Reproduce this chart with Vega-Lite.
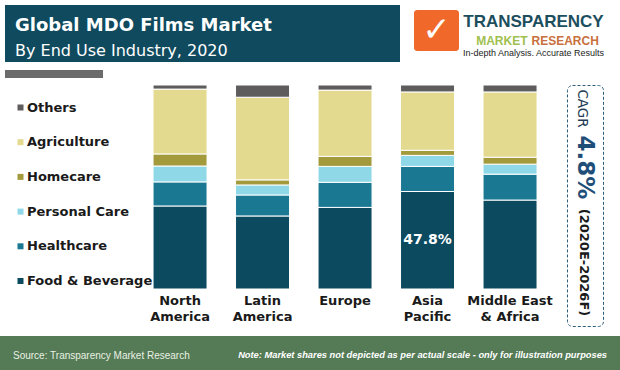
{
  "$schema": "https://vega.github.io/schema/vega-lite/v6.json",
  "padding": {"left": 0, "top": 5, "right": 0, "bottom": 0},
  "background": "white",
  "config": {"view": {"stroke": null}, "font": "DejaVu Sans"},
  "datasets": {
    "one": [{"k": 1}],
    "shares": [
      {"region": "North America", "segment": "Food & Beverage", "rank": 1, "pct": 40.7, "label": ""},
      {"region": "North America", "segment": "Healthcare", "rank": 2, "pct": 11.8, "label": ""},
      {"region": "North America", "segment": "Personal Care", "rank": 3, "pct": 7.8, "label": ""},
      {"region": "North America", "segment": "Homecare", "rank": 4, "pct": 5.9, "label": ""},
      {"region": "North America", "segment": "Agriculture", "rank": 5, "pct": 31.8, "label": ""},
      {"region": "North America", "segment": "Others", "rank": 6, "pct": 2.0, "label": ""},
      {"region": "Latin America", "segment": "Food & Beverage", "rank": 1, "pct": 35.8, "label": ""},
      {"region": "Latin America", "segment": "Healthcare", "rank": 2, "pct": 10.3, "label": ""},
      {"region": "Latin America", "segment": "Personal Care", "rank": 3, "pct": 4.9, "label": ""},
      {"region": "Latin America", "segment": "Homecare", "rank": 4, "pct": 2.5, "label": ""},
      {"region": "Latin America", "segment": "Agriculture", "rank": 5, "pct": 40.5, "label": ""},
      {"region": "Latin America", "segment": "Others", "rank": 6, "pct": 6.0, "label": ""},
      {"region": "Europe", "segment": "Food & Beverage", "rank": 1, "pct": 40.0, "label": ""},
      {"region": "Europe", "segment": "Healthcare", "rank": 2, "pct": 12.3, "label": ""},
      {"region": "Europe", "segment": "Personal Care", "rank": 3, "pct": 7.8, "label": ""},
      {"region": "Europe", "segment": "Homecare", "rank": 4, "pct": 4.9, "label": ""},
      {"region": "Europe", "segment": "Agriculture", "rank": 5, "pct": 32.5, "label": ""},
      {"region": "Europe", "segment": "Others", "rank": 6, "pct": 2.5, "label": ""},
      {"region": "Asia Pacific", "segment": "Food & Beverage", "rank": 1, "pct": 47.8, "label": "47.8%"},
      {"region": "Asia Pacific", "segment": "Healthcare", "rank": 2, "pct": 12.3, "label": ""},
      {"region": "Asia Pacific", "segment": "Personal Care", "rank": 3, "pct": 5.4, "label": ""},
      {"region": "Asia Pacific", "segment": "Homecare", "rank": 4, "pct": 2.5, "label": ""},
      {"region": "Asia Pacific", "segment": "Agriculture", "rank": 5, "pct": 28.6, "label": ""},
      {"region": "Asia Pacific", "segment": "Others", "rank": 6, "pct": 3.4, "label": ""},
      {"region": "Middle East & Africa", "segment": "Food & Beverage", "rank": 1, "pct": 43.6, "label": ""},
      {"region": "Middle East & Africa", "segment": "Healthcare", "rank": 2, "pct": 12.7, "label": ""},
      {"region": "Middle East & Africa", "segment": "Personal Care", "rank": 3, "pct": 4.9, "label": ""},
      {"region": "Middle East & Africa", "segment": "Homecare", "rank": 4, "pct": 3.4, "label": ""},
      {"region": "Middle East & Africa", "segment": "Agriculture", "rank": 5, "pct": 32.0, "label": ""},
      {"region": "Middle East & Africa", "segment": "Others", "rank": 6, "pct": 3.4, "label": ""}
    ]
  },
  "spacing": 6,
  "vconcat": [
    {
      "spacing": 14,
      "hconcat": [
        {
          "spacing": 4,
          "hconcat": [
            {"width": 1, "height": 1, "view": {"fill": "#ffffff", "stroke": null}, "data": {"name": "one"}, "mark": {"type": "point", "opacity": 0, "size": 1}},
            {
              "spacing": 8,
              "vconcat": [
                {
                  "width": 395, "height": 57,
                  "view": {"fill": "#0f4a5e", "stroke": null},
                  "data": {"name": "one"},
                  "mark": {"type": "point", "opacity": 0, "size": 1},
                  "title": {
                    "text": "Global MDO Films Market",
                    "subtitle": "By End Use Industry, 2020",
                    "anchor": "start", "frame": "group", "offset": -54, "dx": 10,
                    "color": "#ffffff", "subtitleColor": "#ffffff",
                    "font": "DejaVu Sans", "fontSize": 18, "fontWeight": "bold",
                    "subtitleFont": "DejaVu Sans", "subtitleFontSize": 16, "subtitleFontWeight": "normal",
                    "subtitlePadding": 8
                  }
                },
                {
                  "width": 98, "height": 8,
                  "view": {"fill": "#6b6b6b", "stroke": null},
                  "data": {"name": "one"},
                  "mark": {"type": "point", "opacity": 0, "size": 1}
                }
              ]
            }
          ]
        },
        {
          "spacing": 2,
          "hconcat": [
            {
              "spacing": 4,
              "vconcat": [
                {"width": 45, "height": 1, "view": {"fill": "#ffffff", "stroke": null}, "data": {"name": "one"}, "mark": {"type": "point", "opacity": 0, "size": 1}},
                {
                  "width": 45, "height": 41,
                  "view": {"fill": "#f0692a", "stroke": null, "cornerRadius": 3},
                  "data": {"name": "one"},
                  "mark": {"type": "text", "text": "✓", "color": "white", "fontSize": 34, "fontWeight": "bold", "align": "center", "baseline": "middle"}
                }
              ]
            },
            {
              "width": 145, "height": 55,
              "view": {"fill": "#ffffff", "stroke": null},
              "data": {"name": "one"},
              "layer": [
                {"mark": {"type": "text", "text": "TRANSPARENCY", "font": "Liberation Sans", "fontWeight": "bold", "fontSize": 17, "color": "#1c4e5e", "align": "center", "baseline": "middle", "dy": -11}},
                {"mark": {"type": "text", "text": "MARKET", "font": "Liberation Sans", "fontWeight": "bold", "fontSize": 12, "color": "#9fbf4f", "align": "right", "baseline": "middle", "dx": -6, "dy": 8}},
                {"mark": {"type": "text", "text": "RESEARCH", "font": "Liberation Sans", "fontWeight": "bold", "fontSize": 12, "color": "#c8703d", "align": "left", "baseline": "middle", "dx": -2, "dy": 8}},
                {"mark": {"type": "text", "text": "In-depth Analysis. Accurate Results", "font": "Liberation Sans", "fontSize": 9, "color": "#222222", "align": "center", "baseline": "middle", "dy": 20}}
              ]
            }
          ]
        }
      ]
    },
    {
      "spacing": 9,
      "vconcat": [
        {
          "spacing": 13,
          "hconcat": [
            {
              "width": 540, "height": 204,
              "view": {"fill": "#ffffff", "stroke": null},
              "data": {"name": "shares"},
              "layer": [
                {
                  "mark": {"type": "bar", "stroke": "white", "strokeWidth": 1},
                  "encoding": {
                    "x": {
                      "field": "region", "type": "nominal",
                      "sort": ["North America", "Latin America", "Europe", "Asia Pacific", "Middle East & Africa"],
                      "scale": {"paddingInner": 0.3455, "paddingOuter": 0.9455, "align": 0.981},
                      "axis": {
                        "title": null, "domain": false, "ticks": false, "labelAngle": 0, "labelPadding": 5,
                        "labelFont": "DejaVu Sans", "labelFontWeight": "bold", "labelFontSize": 13, "labelColor": "#1a1a1a",
                        "labelLineHeight": 16,
                        "labelExpr": "datum.label == 'Middle East & Africa' ? ['Middle East', '& Africa'] : split(datum.label, ' ')"
                      }
                    },
                    "y": {"field": "pct", "type": "quantitative", "stack": "zero", "scale": {"domain": [0, 100], "nice": false}, "axis": null},
                    "order": {"field": "rank", "type": "quantitative", "sort": "ascending"},
                    "color": {
                      "field": "segment", "type": "nominal",
                      "sort": ["Others", "Agriculture", "Homecare", "Personal Care", "Healthcare", "Food & Beverage"],
                      "scale": {
                        "domain": ["Others", "Agriculture", "Homecare", "Personal Care", "Healthcare", "Food & Beverage"],
                        "range": ["#5e5c5d", "#e3d98f", "#a39a3c", "#8fd8e8", "#1b7892", "#0c4a60"]
                      },
                      "legend": {
                        "orient": "none", "legendX": 14, "legendY": 96, "title": null,
                        "symbolType": "square", "symbolSize": 36, "symbolStrokeWidth": 0,
                        "labelFont": "DejaVu Sans", "labelFontWeight": "bold", "labelFontSize": 13, "labelColor": "#1a1a1a",
                        "labelOffset": 0, "rowPadding": 20.7, "padding": 0, "labelLimit": 200
                      }
                    }
                  }
                },
                {
                  "transform": [{"filter": "datum.label != ''"}],
                  "mark": {"type": "text", "color": "white", "fontWeight": "bold", "fontSize": 14, "font": "DejaVu Sans", "baseline": "middle"},
                  "encoding": {
                    "x": {"field": "region", "type": "nominal", "sort": ["North America", "Latin America", "Europe", "Asia Pacific", "Middle East & Africa"]},
                    "y": {"field": "pct", "type": "quantitative", "stack": null, "scale": {"domain": [0, 200], "nice": false}, "axis": null},
                    "text": {"field": "label"}
                  }
                }
              ],
              "resolve": {"scale": {"y": "independent"}}
            },
            {
              "width": 36, "height": 241,
              "view": {"fill": "#ffffff", "stroke": "#2e5d7a", "strokeDash": [3, 2], "strokeWidth": 1, "cornerRadius": 5},
              "data": {"name": "one"},
              "layer": [
                {"mark": {"type": "text", "text": "CAGR", "angle": 90, "font": "DejaVu Sans", "fontSize": 13.5, "color": "#1f3b55", "align": "center", "baseline": "middle", "dx": -97, "dy": 3}},
                {"mark": {"type": "text", "text": "4.8%", "angle": 90, "font": "DejaVu Sans", "fontSize": 23, "fontWeight": "bold", "color": "#1f4e79", "align": "center", "baseline": "middle", "dx": -38, "dy": 0}},
                {"mark": {"type": "text", "text": "(2020E-2026F)", "angle": 90, "font": "DejaVu Sans", "fontSize": 13, "fontWeight": "bold", "color": "#1a1a1a", "align": "center", "baseline": "middle", "dx": 57, "dy": 1}}
              ]
            }
          ]
        },
        {
          "spacing": 0,
          "hconcat": [
            {
              "width": 225, "height": 36,
              "view": {"fill": "#557a56", "stroke": null},
              "data": {"name": "one"},
              "mark": {"type": "point", "opacity": 0, "size": 1},
              "title": {"text": "Source: Transparency Market Research", "anchor": "start", "frame": "group", "offset": -25, "dx": 13, "color": "#e9f1e4", "font": "Liberation Sans", "fontSize": 10, "fontWeight": "normal"}
            },
            {
              "width": 395, "height": 36,
              "view": {"fill": "#557a56", "stroke": null},
              "data": {"name": "one"},
              "mark": {"type": "point", "opacity": 0, "size": 1},
              "title": {"text": "Note: Market shares not depicted as per actual scale - only for illustration purposes", "anchor": "end", "frame": "group", "offset": -24, "dx": -13, "color": "#ffffff", "font": "Liberation Sans", "fontSize": 9.3, "fontStyle": "italic", "fontWeight": "bold"}
            }
          ]
        }
      ]
    }
  ]
}
